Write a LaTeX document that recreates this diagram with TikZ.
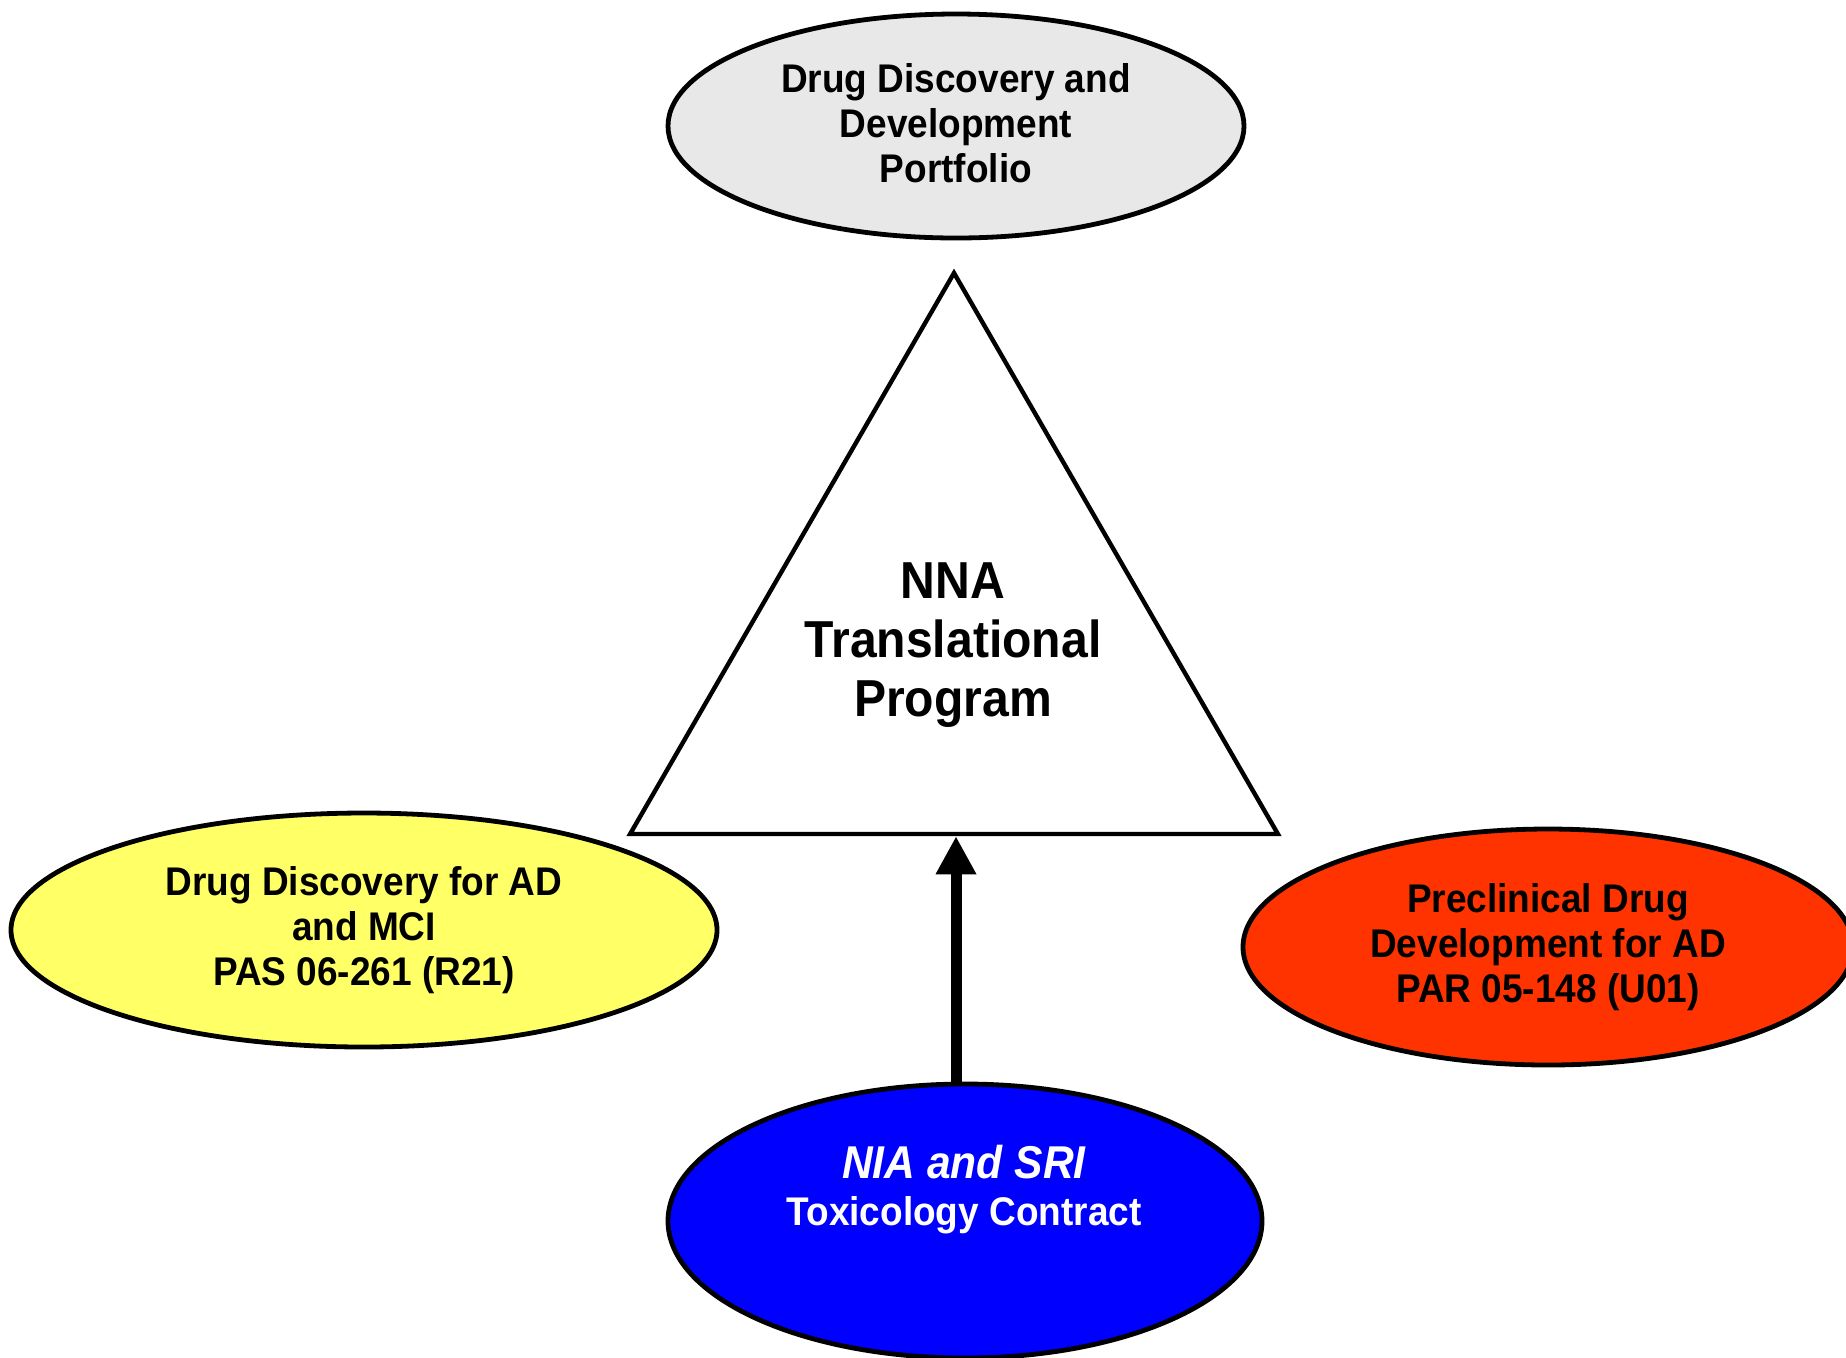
\documentclass[tikz,border=0pt]{standalone}
\usepackage{fontspec}
\setmainfont{Liberation Sans}[FakeStretch=0.925]
\usetikzlibrary{shapes.geometric,arrows.meta}
\definecolor{topgray}{HTML}{E8E8E8}
\definecolor{ylw}{HTML}{FFFF66}
\definecolor{redo}{HTML}{FF3300}
\definecolor{blu}{HTML}{0000FF}
\begin{document}
\begin{tikzpicture}[x=0.5pt,y=-0.5pt,
  oval/.style={ellipse, draw=black, line width=2.4pt, inner sep=0pt, align=center,
    font=\bfseries\fontsize{20}{22.5}\selectfont},
  bigtext/.style={align=center, font=\bfseries\fontsize{26}{29.5}\selectfont},
]
\useasboundingbox[fill=white] (0,0) rectangle (1846,1357);
\node[oval, fill=topgray, minimum width=288pt, minimum height=112pt] (portfolio) at (956,126) {};
\node[align=center, font=\bfseries\fontsize{20}{22.5}\selectfont] (portfoliotext) at (956,123)
  {Drug Discovery and\\Development\\Portfolio};
\node[regular polygon, regular polygon sides=3, draw=black, line width=2.2pt, inner sep=0pt,
  minimum size=374pt] (tri) at (954,647) {};
\node[bigtext] (nna) at (953,645) {NNA\\Translational\\Program};
\node[oval, fill=ylw, minimum width=353pt, minimum height=117pt] (r21) at (364,930)
  {Drug Discovery for AD\\and MCI\\PAS 06-261 (R21)};
\node[oval, fill=redo, minimum width=305pt, minimum height=118pt] (u01) at (1548,947)
  {Preclinical Drug\\Development for AD\\PAR 05-148 (U01)};
\node[oval, fill=blu, minimum width=297pt, minimum height=137pt] (tox) at (965,1221) {};
\node[align=center, text=white, font=\bfseries\fontsize{20}{23.5}\selectfont] (toxtext) at (964,1190)
  {{\fontsize{23}{23.5}\selectfont\itshape NIA and SRI}\\Toxicology Contract};
\draw[line width=5.5pt, -{Triangle[length=19pt,width=19pt]}] ([xshift=1pt]tri.south |- tox.north) -- ([xshift=1pt]tri.south);
\end{tikzpicture}
\end{document}
